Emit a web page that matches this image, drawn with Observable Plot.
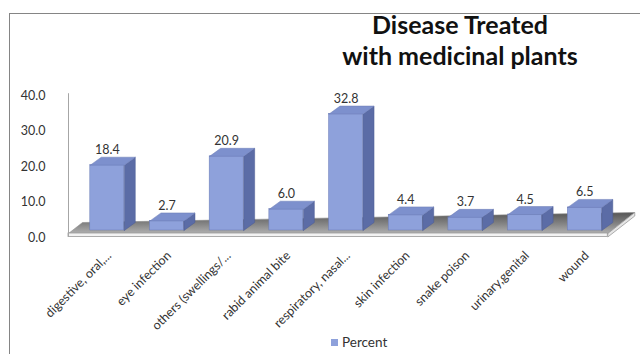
<!DOCTYPE html>
<html>
<head>
<meta charset="utf-8">
<script src="https://cdn.jsdelivr.net/npm/d3@7"></script>
<script src="https://cdn.jsdelivr.net/npm/@observablehq/plot@0.6"></script>
<style>
  html, body { margin: 0; padding: 0; background: #fff; }
  #chart { position: relative; width: 640px; height: 354px; overflow: hidden; font-family: Lato, "Open Sans", sans-serif; }
  #frame { position: absolute; left: 9px; top: 13px; width: 700px; height: 400px;
           border-top: 1.5px solid #858585; border-left: 1.5px solid #858585; }
  #plot { position: absolute; left: 0; top: 0; }
  #title { position: absolute; left: 310px; width: 300px; top: 9px; text-align: center;
           font-weight: 700; font-size: 25px; line-height: 31px; color: #111; }
  #legend { position: absolute; left: 331px; top: 334px; font-size: 13.5px; color: #333;
            display: flex; align-items: center; }
  #legend .sw { width: 7px; height: 7px; background: #8ea1db; margin-right: 4px; }
</style>
</head>
<body>
<svg width="0" height="0" style="position:absolute">
  <defs>
    <linearGradient id="floorShade" x1="0" y1="0" x2="0" y2="1">
      <stop offset="0" stop-color="#555555"/>
      <stop offset="0.55" stop-color="#858585"/>
      <stop offset="1" stop-color="#b0b0b0"/>
    </linearGradient>
  </defs>
</svg>
<div id="chart">
  <div id="frame"></div>
  <div id="plot"></div>
  <div id="title">Disease Treated<br>with medicinal plants</div>
  <div id="legend"><span class="sw"></span><span id="legendText"></span></div>
</div>
<script>
// Categories and their share of treatments (percent)
const categories = [
  "digestive, oral,...",
  "eye infection",
  "others (swellings/...",
  "rabid animal bite",
  "respiratory, nasal...",
  "skin infection",
  "snake poison",
  "urinary,genital",
  "wound"
];
const percent = [18.4, 2.7, 20.9, 6.0, 32.8, 4.4, 3.7, 4.5, 6.5];
const yTicks = [0, 10, 20, 30, 40];
const seriesName = "Percent";

document.getElementById("legendText").textContent = seriesName;

// Plot frame
const W = 640, H = 354, mL = 68, mR = 2, mT = 95, mB = 117;
const xDomain = [-0.65, 8.9], yDomain = [0, 40];
// data units per pixel, used to turn the 3D depth (in px) into scale units
const kx = (xDomain[1] - xDomain[0]) / (W - mL - mR);
const ky = (yDomain[1] - yDomain[0]) / (H - mT - mB);

// box geometry (pixels)
const halfW = 17, depthX = 11, depthY = 8, lift = 7;
const hw = halfW * kx, dX = depthX * kx, dY = depthY * ky, b = lift * ky;

const rows = categories.map((cat, i) => ({ i, cat, v: percent[i] }));

const topFaces = rows.flatMap(d => [
  [d.i - hw, b + d.v], [d.i + hw, b + d.v],
  [d.i + hw + dX, b + d.v + dY], [d.i - hw + dX, b + d.v + dY],
  [d.i - hw, b + d.v]
].map(([x, y]) => ({ cat: d.cat, x, y })));

const sideFaces = rows.flatMap(d => [
  [d.i + hw, b], [d.i + hw + dX, b + dY],
  [d.i + hw + dX, b + d.v + dY], [d.i + hw, b + d.v],
  [d.i + hw, b]
].map(([x, y]) => ({ cat: d.cat, x, y })));

// floor slab (pixel offsets converted to scale units)
const n = categories.length;
const slabTop = 4 * ky, slabBottom = 0.5 * ky;
const FL = { x: xDomain[0], y: slabTop };
const FR = { x: (n - 1) + 23 * kx, y: slabTop };
const BR = { x: FR.x + 27 * kx, y: slabTop + 21 * ky };
const BL = { x: FL.x + 14 * kx, y: slabTop + 11 * ky };
const floorTop = [FL, FR, BR, BL, FL];
const floorSide = [
  FR, BR, { x: BR.x, y: BR.y - (slabTop - slabBottom) }, { x: FR.x, y: slabBottom }, FR
];

const frontColor = "#8ea1db", topColor = "#7d90cd", sideColor = "#5b6ca6", edge = "#6a7bb5";

const chart = Plot.plot({
  width: W, height: H,
  marginLeft: mL, marginRight: mR, marginTop: mT, marginBottom: mB,
  style: { fontFamily: "Lato, 'Open Sans', sans-serif", fontSize: "11px", color: "#333", background: "transparent", overflow: "visible" },
  x: { type: "linear", domain: xDomain, axis: null },
  y: { domain: yDomain, label: null },
  marks: [
    // floor
    Plot.line(floorTop, { x: "x", y: "y", fill: "url(#floorShade)", stroke: "#8c8c8c", strokeWidth: 0.6 }),
    Plot.rect([FL], { x1: FL.x, x2: FR.x, y1: slabBottom, y2: slabTop, fill: "#f3f3f3", stroke: "#9a9a9a", strokeWidth: 0.8 }),
    Plot.line(floorSide, { x: "x", y: "y", fill: "#e6e6e6", stroke: "#9a9a9a", strokeWidth: 0.8 }),
    // value axis line
    Plot.ruleX([xDomain[0]], { y1: 0, y2: yDomain[1] + 0.5, stroke: "#a6a6a6", strokeWidth: 1 }),
    // boxes
    Plot.rect(rows, { x1: d => d.i - hw, x2: d => d.i + hw, y1: b, y2: d => b + d.v, fill: frontColor, stroke: edge, strokeWidth: 0.5 }),
    Plot.line(sideFaces, { x: "x", y: "y", z: "cat", fill: sideColor, stroke: "#4d5d94", strokeWidth: 0.5 }),
    Plot.line(topFaces, { x: "x", y: "y", z: "cat", fill: topColor, stroke: edge, strokeWidth: 0.5 }),
    // data labels
    Plot.text(rows, { x: "i", y: d => b + d.v + dY, text: d => d.v.toFixed(1), lineAnchor: "bottom", dy: -3, fontSize: 12.5, fill: "#333" }),
    // category labels
    Plot.text(rows, { x: "i", y: 0, text: "cat", rotate: -45, textAnchor: "end", dx: 2, dy: 16, fontSize: 12.5, fill: "#333" }),
    // value axis
    Plot.axisY(yTicks, { tickSize: 0, tickPadding: 23, tickFormat: d3.format(".1f"), fontSize: 12.5, fill: "#333" })
  ]
});
document.getElementById("plot").appendChild(chart);
</script>
</body>
</html>
